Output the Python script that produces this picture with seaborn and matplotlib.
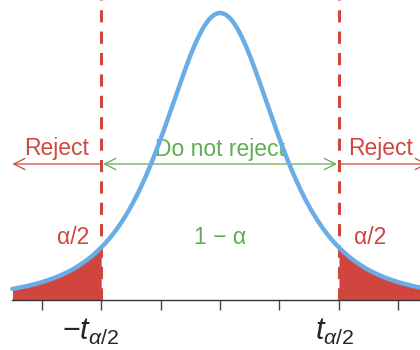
import numpy as np
import pandas as pd
import seaborn as sns
import matplotlib.pyplot as plt

# t distribution used for the sketch
df_t = 3
t_crit = 2.0
x_lo, x_hi = -3.5, 3.5
tick_pos = [-3, -2, -1, 0, 1, 2, 3]
crit_labels = [r"$-t_{\alpha/2}$", r"$t_{\alpha/2}$"]
region_labels = ["Reject", "Do not reject", "Reject"]
area_labels = ["α/2", "1 − α", "α/2"]

RED = "#d0463f"
GREEN = "#5fad52"
BLUE = "#6aade6"


def t_pdf(x, nu):
    from math import gamma, pi, sqrt
    c = gamma((nu + 1) / 2) / (sqrt(nu * pi) * gamma(nu / 2))
    return c * (1 + x ** 2 / nu) ** (-(nu + 1) / 2)


xs = np.linspace(x_lo, x_hi, 600)
curve = pd.DataFrame({"x": xs, "y": t_pdf(xs, df_t)})

sns.set_style("white")
plt.rcParams["font.family"] = ["Liberation Sans", "DejaVu Sans"]
plt.rcParams["mathtext.fontset"] = "custom"
plt.rcParams["mathtext.rm"] = "Liberation Sans"
plt.rcParams["mathtext.it"] = "Liberation Sans:italic"

fig = plt.figure(figsize=(4.2, 3.5), dpi=100)
ax = fig.add_axes([0, 50 / 350, 1, 300 / 350])

peak = t_pdf(0, df_t)
ymax = peak * 300 / 287
ax.set_xlim(-3.71, 3.37)
ax.set_ylim(0, ymax)

# rejection regions
left = curve[curve.x <= -t_crit]
right = curve[curve.x >= t_crit]
ax.fill_between(left.x, 0, left.y, color=RED, lw=0, zorder=2)
ax.fill_between(right.x, 0, right.y, color=RED, lw=0, zorder=2)

sns.lineplot(data=curve, x="x", y="y", color=BLUE, lw=3.2, ax=ax, zorder=4)

for xc in (-t_crit, t_crit):
    ax.axvline(xc, color=RED, lw=2.2, ls=(0, (4, 3)), zorder=3)


def y_at(px):
    return (300 - px) / 300 * ymax


# arrows
arr_y = y_at(164)
akw = dict(mutation_scale=20, lw=0.9, shrinkA=0, shrinkB=0)
ax.annotate("", xy=(x_lo, arr_y), xytext=(-t_crit, arr_y),
            arrowprops=dict(arrowstyle="->", color=RED, **akw), annotation_clip=False)
ax.annotate("", xy=(x_hi, arr_y), xytext=(t_crit, arr_y),
            arrowprops=dict(arrowstyle="->", color=RED, **akw), annotation_clip=False)
ax.annotate("", xy=(-t_crit + 0.03, arr_y), xytext=(t_crit - 0.03, arr_y),
            arrowprops=dict(arrowstyle="<->", color=GREEN, **akw))

# labels
ax.text(-2.75, y_at(148), region_labels[0], color=RED, fontsize=16.5, ha="center", va="center")
ax.text(0, y_at(149), region_labels[1], color=GREEN, fontsize=16.5, ha="center", va="center")
ax.text(2.7, y_at(148), region_labels[2], color=RED, fontsize=16.5, ha="center", va="center")
ax.text(-2.48, y_at(237), area_labels[0], color=RED, fontsize=16.5, ha="center", va="center")
ax.text(0, y_at(237), area_labels[1], color=GREEN, fontsize=16.5, ha="center", va="center")
ax.text(2.53, y_at(237), area_labels[2], color=RED, fontsize=16.5, ha="center", va="center")

# critical value labels under the axis
lab_y = -(332 - 300) / 300 * ymax
ax.text(-t_crit - 0.19, lab_y, crit_labels[0], fontsize=22, ha="center", va="center")
ax.text(t_crit - 0.07, lab_y, crit_labels[1], fontsize=22, ha="center", va="center")

ax.set_xticks(tick_pos)
ax.set_xticklabels([])
ax.tick_params(axis="x", direction="out", length=7, width=1, color="#444444", bottom=True)
ax.set_yticks([])
ax.set_xlabel("")
ax.set_ylabel("")
for s in ("top", "left", "right"):
    ax.spines[s].set_visible(False)
ax.spines["bottom"].set_color("#333333")
ax.spines["bottom"].set_linewidth(1)
ax.spines["bottom"].set_bounds(x_lo, x_hi)

fig.savefig("out.png", dpi=100)
